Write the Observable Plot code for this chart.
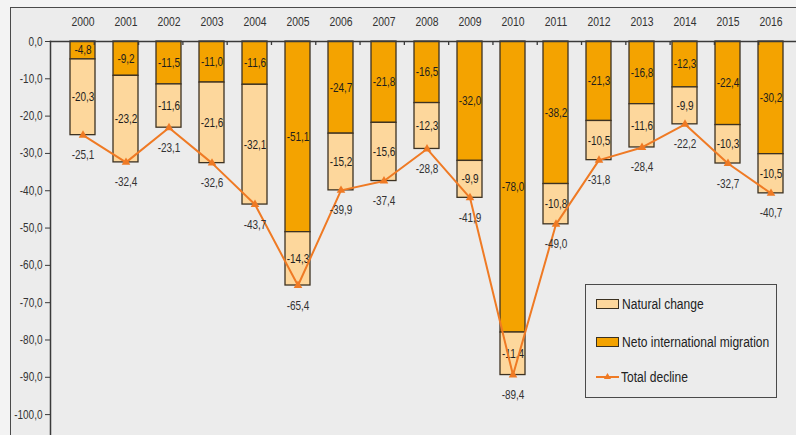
<!DOCTYPE html>
<html>
<head>
<meta charset="utf-8">
<script src="https://cdn.jsdelivr.net/npm/d3@7"></script>
<script src="https://cdn.jsdelivr.net/npm/@observablehq/plot@0.6"></script>
<style>
  html, body { margin: 0; padding: 0; background: #f3f3f3; overflow: hidden; }
  #wrap { position: relative; width: 796px; height: 435px; overflow: hidden; }
  #frame { position: absolute; left: 10px; top: 7px; width: 800px; height: 440px;
           border-left: 1.5px solid #4a4a4a; border-top: 1.5px solid #4a4a4a; background: #ececec; }
  #chart { position: absolute; left: 0; top: 0; }
  #legend { position: absolute; left: 585px; top: 284px; width: 192px; height: 114px;
            border: 1.6px solid #4a4a4a; box-sizing: border-box;
            font-family: "Liberation Sans", Arial, sans-serif;
            font-size: 14px; color: #222; }
  .item { position: absolute; left: 10px; display: flex; align-items: center; white-space: nowrap; height: 16px; }
  .item span { display: inline-block; transform: scaleX(0.86); transform-origin: left center; }
  .sw { width: 21px; height: 8px; border: 1.3px solid #3a3020; margin-right: 3px; }
  .ln { width: 23px; height: 10px; margin-right: 2px; }
</style>
</head>
<body>
<div id="wrap">
  <div id="frame"></div>
  <div id="chart"></div>
  <div id="legend"></div>
</div>
<script>
const years = [2000,2001,2002,2003,2004,2005,2006,2007,2008,2009,2010,2011,2012,2013,2014,2015,2016];
const migration = [-4.8,-9.2,-11.5,-11.0,-11.6,-51.1,-24.7,-21.8,-16.5,-32.0,-78.0,-38.2,-21.3,-16.8,-12.3,-22.4,-30.2];
const natural = [-20.3,-23.2,-11.6,-21.6,-32.1,-14.3,-15.2,-15.6,-12.3,-9.9,-11.4,-10.8,-10.5,-11.6,-9.9,-10.3,-10.5];
const total = [-25.1,-32.4,-23.1,-32.6,-43.7,-65.4,-39.9,-37.4,-28.8,-41.9,-89.4,-49.0,-31.8,-28.4,-22.2,-32.7,-40.7];
const yTicks = [0,-10,-20,-30,-40,-50,-60,-70,-80,-90,-100];
const seriesNames = ["Natural change", "Neto international migration", "Total decline"];

const colNat = "#fdd79c", colMig = "#f4a300", colLine = "#ef7a24", colEdge = "#3d3222";
const font = '"Liberation Sans", Arial, sans-serif';
const fmt = v => d3.format(".1f")(v).replace("\u2212", "-").replace(".", ",");

const rows = years.map((y, i) => ({year: y, mig: migration[i], nat: natural[i], tot: total[i]}));

const plot = Plot.plot({
  width: 796, height: 435,
  marginTop: 41, marginBottom: 0, marginLeft: 50, marginRight: 0,
  style: {background: "transparent", fontFamily: font, fontSize: "12.5px", color: "#222", overflow: "hidden"},
  x: {type: "band", domain: years, range: [50, 803], padding: 0.41, align: 0.5},
  y: {domain: [-105.6, 0]},
  marks: [
    Plot.frame({anchor: "left", stroke: "#3a3a3a", strokeWidth: 1.5}),
    Plot.barY(rows, {x: "year", y1: 0, y2: "mig", fill: colMig, stroke: colEdge, strokeWidth: 1.3}),
    Plot.barY(rows, {x: "year", y1: "mig", y2: d => d.mig + d.nat, fill: colNat, stroke: colEdge, strokeWidth: 1.3}),
    Plot.frame({anchor: "top", stroke: "#3a3a3a", strokeWidth: 1.5}),
    Plot.axisY({ticks: yTicks, tickFormat: fmt, tickSize: 5, tickPadding: 3, fontSize: 12.5, stroke: "#3a3a3a", fill: "#333"}),
    Plot.axisX({anchor: "top", tickSize: 0, tickPadding: 16, fontSize: 13, tickFormat: d => String(d), label: null, fill: "#333"}),
    Plot.text(rows, {x: "year", y: d => d.mig / 2, text: d => fmt(d.mig), fontSize: 12.5, fill: "#1e1e1e"}),
    Plot.text(rows, {x: "year", y: d => d.mig + d.nat / 2, text: d => fmt(d.nat), fontSize: 12.5, fill: "#1e1e1e"}),
    Plot.line(rows, {x: "year", y: "tot", stroke: colLine, strokeWidth: 2}),
    Plot.dot(rows, {x: "year", y: "tot", symbol: "triangle", r: 3.2, fill: colLine, stroke: "none"}),
    Plot.text(rows, {x: "year", y: "tot", text: d => fmt(d.tot), dy: 20, fontSize: 12.5, fill: "#333"})
  ]
});
document.getElementById("chart").appendChild(plot);

// condense all text horizontally (narrow-font look)
d3.select(plot).selectAll("text").each(function() {
  const t = this.getAttribute("transform");
  if (t) this.setAttribute("transform", t + " scale(0.8,1)");
  else {
    const x = +this.getAttribute("x") || 0, y = +this.getAttribute("y") || 0;
    this.setAttribute("transform", `translate(${x},${y}) scale(0.8,1) translate(${-x},${-y})`);
  }
});

// small tick marks at band boundaries on the zero line, derived from the x scale
const xs = plot.scale("x"), ys = plot.scale("y");
const xf = d3.scaleBand().domain(xs.domain).range(xs.range).padding(0);
const y0 = d3.scaleLinear().domain(ys.domain).range(ys.range)(0);
d3.select(plot).append("g").selectAll("line").data(years.slice(1)).join("line")
  .attr("x1", d => xf(d)).attr("x2", d => xf(d))
  .attr("y1", y0).attr("y2", y0 + 4)
  .attr("stroke", "#3a3a3a").attr("stroke-width", 1.3);

// legend
const lg = document.getElementById("legend");
const tops = [11, 49, 84];
seriesNames.forEach((name, i) => {
  const it = document.createElement("div");
  it.className = "item";
  it.style.top = tops[i] + "px";
  if (i < 2) {
    const sw = document.createElement("div");
    sw.className = "sw";
    sw.style.background = i === 0 ? colNat : colMig;
    it.appendChild(sw);
  } else {
    const s = d3.create("svg").attr("class", "ln").attr("width", 23).attr("height", 10);
    s.append("line").attr("x1", 0).attr("x2", 23).attr("y1", 5).attr("y2", 5).attr("stroke", colLine).attr("stroke-width", 2);
    s.append("path").attr("d", d3.symbol(d3.symbolTriangle, 22)()).attr("transform", "translate(11.5,5)").attr("fill", colLine);
    it.appendChild(s.node());
  }
  const t = document.createElement("span");
  t.textContent = name;
  it.appendChild(t);
  lg.appendChild(it);
});
</script>
</body>
</html>
